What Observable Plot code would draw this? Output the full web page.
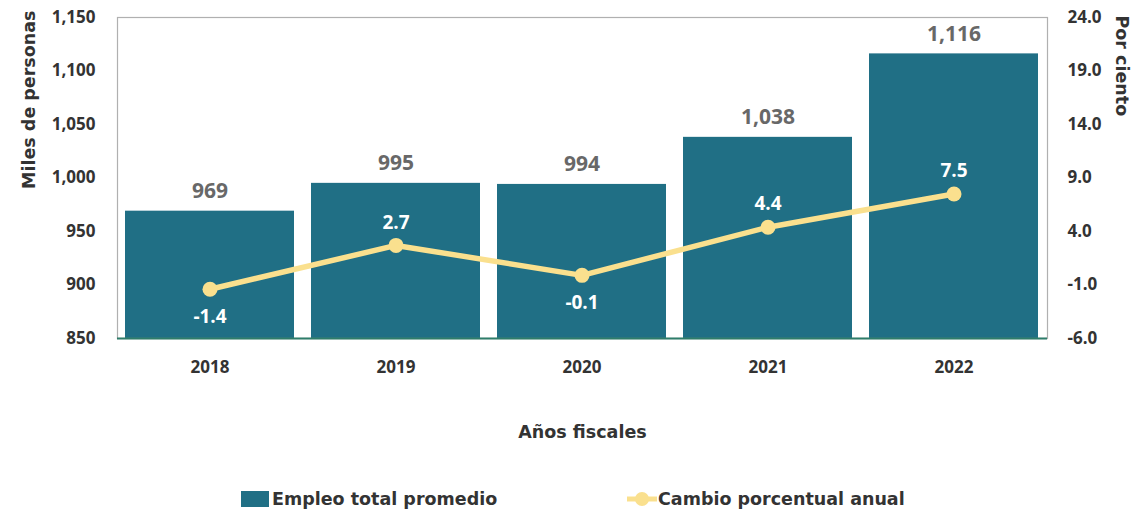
<!DOCTYPE html>
<html>
<head>
<meta charset="utf-8">
<script src="https://cdn.jsdelivr.net/npm/d3@7"></script>
<script src="https://cdn.jsdelivr.net/npm/@observablehq/plot@0.6"></script>
<style>
  body { margin: 0; background: #fff; font-family: "Open Sans", sans-serif; }
  #legend { height: 47px; position: relative; font-family: "DejaVu Sans", sans-serif; font-weight: 700; font-size: 17.5px; color: #333; }
  .item { position: absolute; top: 24px; display: flex; align-items: center; }
</style>
</head>
<body>
<div id="chart"></div>
<div id="legend"></div>
<script>
const years = ["2018", "2019", "2020", "2021", "2022"];
const empleo = [969, 995, 994, 1038, 1116];
const cambio = [-1.4, 2.7, -0.1, 4.4, 7.5];
const leftTicks = [850, 900, 950, 1000, 1050, 1100, 1150];
const rightTicks = [-6, -1, 4, 9, 14, 19, 24];

const barColor = "#206f85";
const lineColor = "#fae08e";
const textColor = "#333";
const titleFont = "'DejaVu Sans', sans-serif";

// map right-axis percent onto left-axis scale
const L0 = 850, L1 = 1150, R0 = -6, R1 = 24;
const toLeft = v => L0 + (v - R0) * (L1 - L0) / (R1 - R0);
const toRight = d => R0 + (d - L0) * (R1 - R0) / (L1 - L0);

const data = years.map((y, i) => ({year: y, emp: empleo[i], pct: cambio[i], pctL: toLeft(cambio[i])}));
const fmt = d3.format(",");

const chart = Plot.plot({
  width: 1141,
  height: 465,
  marginTop: 17,
  marginBottom: 127,
  marginLeft: 117,
  marginRight: 94,
  style: {fontFamily: "'Open Sans', sans-serif", background: "#fff"},
  x: {domain: years, paddingInner: 0.09, paddingOuter: 0.045, label: null},
  y: {domain: [L0, L1], label: null},
  marks: [
    Plot.barY(data, {x: "year", y1: L0, y2: "emp", fill: barColor}),
    Plot.frame({stroke: "#b0b0b0", strokeWidth: 1.2}),
    Plot.ruleY([L0], {stroke: "#2e7d6a", strokeWidth: 2}),
    Plot.axisY({anchor: "left", ticks: leftTicks, tickSize: 0, tickPadding: 22, tickFormat: fmt,
      fontSize: 17, fontWeight: 700, fill: textColor, label: null}),
    Plot.axisY({anchor: "right", ticks: rightTicks.map(toLeft), tickSize: 0, tickPadding: 20,
      tickFormat: d => toRight(d).toFixed(1), textAnchor: "start",
      fontSize: 17, fontWeight: 700, fill: textColor, label: null}),
    Plot.axisX({tickSize: 0, tickPadding: 22, fontSize: 17, fontWeight: 700, fill: textColor, label: null}),
    Plot.text(data, {x: "year", y: "emp", text: d => fmt(d.emp), dy: -20,
      fontSize: 21, fontWeight: 700, fill: "#686868"}),
    Plot.line(data, {x: "year", y: "pctL", stroke: lineColor, strokeWidth: 5.5}),
    Plot.dot(data, {x: "year", y: "pctL", r: 7.5, fill: lineColor}),
    Plot.text(data.filter(d => d.pct >= 0), {x: "year", y: "pctL", text: d => d.pct.toFixed(1),
      dy: -23, fontSize: 19, fontWeight: 700, fill: "#fff"}),
    Plot.text(data.filter(d => d.pct < 0), {x: "year", y: "pctL", text: d => d.pct.toFixed(1),
      dy: 28, fontSize: 19, fontWeight: 700, fill: "#fff"}),
    Plot.text(["Miles de personas"], {frameAnchor: "top-left", text: d => d, rotate: -90,
      textAnchor: "end", dx: -95, dy: -7, fontSize: 17.5, fontWeight: 700, fill: textColor, fontFamily: titleFont}),
    Plot.text(["Por ciento"], {frameAnchor: "top-right", text: d => d, rotate: 90,
      textAnchor: "start", dx: 81, dy: -2, fontSize: 17.5, fontWeight: 700, fill: textColor, fontFamily: titleFont}),
    Plot.text(["Años fiscales"], {frameAnchor: "bottom", text: d => d, dy: 99,
      fontSize: 17.5, fontWeight: 700, fill: textColor, fontFamily: titleFont})
  ]
});
document.getElementById("chart").appendChild(chart);

const legend = document.getElementById("legend");
legend.innerHTML = `
  <div class="item" style="left:241px">
    <svg width="28" height="18"><rect x="0" y="1" width="28" height="16" fill="${barColor}"/></svg>
    <span style="margin-left:3px">Empleo total promedio</span>
  </div>
  <div class="item" style="left:627px">
    <svg width="30" height="18"><line x1="0" y1="9" x2="30" y2="9" stroke="${lineColor}" stroke-width="5"/><circle cx="15" cy="9" r="7" fill="${lineColor}"/></svg>
    <span style="margin-left:1px">Cambio porcentual anual</span>
  </div>`;
</script>
</body>
</html>
